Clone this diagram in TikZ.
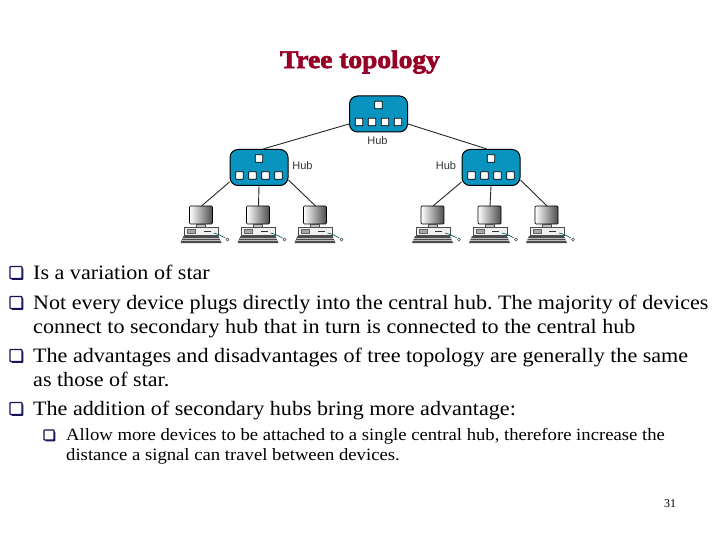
\documentclass[tikz,border=0pt]{standalone}
\usepackage{fontspec}
\usetikzlibrary{shadows}
\setmainfont{Liberation Serif}
\newfontfamily\bodyfont[FakeStretch=1.08]{Liberation Serif}
\newfontfamily\titlefont[FakeBold=2.6,FakeStretch=1.08]{Liberation Serif Bold}
\newfontfamily\hubfont{Liberation Sans}
\definecolor{hubblue}{RGB}{8,148,190}
\definecolor{titlered}{RGB}{150,0,36}
\definecolor{bulletnavy}{RGB}{20,20,90}
\tikzset{
  hubbox/.style={draw=black,line width=1pt,fill=hubblue,rounded corners=8pt,minimum width=58pt,minimum height=36pt,inner sep=0pt},
  port/.style={draw=black,line width=.9pt,fill=white,minimum size=7.5pt,inner sep=0pt,rounded corners=.6pt},
  link/.style={draw=black!85,line width=.9pt},
  hublabel/.style={font=\hubfont\fontsize{11}{13}\selectfont,text=black!80,inner sep=0pt},
  bodytext/.style={anchor=base west,inner sep=0pt,font=\bodyfont\fontsize{20.45}{24}\selectfont\frenchspacing},
  subtext/.style={anchor=base west,inner sep=0pt,font=\bodyfont\fontsize{17.3}{20}\selectfont\frenchspacing},
  qbox/.style={draw=bulletnavy,line width=1.2pt,fill=white,minimum size=12pt,inner sep=0pt,rounded corners=.8pt,
    general shadow={fill=bulletnavy,shadow xshift=1.3pt,shadow yshift=-1.3pt}},
  qsub/.style={qbox,minimum size=10pt},
  pc/.pic={
    \coordinate (-top) at (0,0);
    \shade[left color=white,right color=black!70,draw=black,line width=.7pt,rounded corners=1pt] (-12,0) rectangle (11,18);
    \draw[black!70,fill=black!25,line width=.5pt] (-5,18) rectangle (4,21);
    \draw[black!70,fill=black!6,line width=.6pt] (-17,21) rectangle (17,29.5);
    \draw[black!60,fill=black!35,line width=.4pt] (-14,23) rectangle (-6,27);
    \draw[black!80,line width=.9pt] (2,25) -- (9,25);
    \fill[black!70] (-18,30) -- (17,30) -- (20,37) -- (-21,37) -- cycle;
    \draw[white!75!black,line width=.35pt] (-19,32) -- (18,32) (-20,34.5) -- (19,34.5);
    \draw[teal!70!black,line width=.6pt] (12,27) .. controls (17,28) and (20,30) .. (24,32);
    \draw[black!70,line width=.5pt] (26,33.5) circle (1.5);
  }
}
\newcommand{\hubports}[1]{%
  \node[port] at ([yshift=9pt]#1.center) {};
  \foreach \dx in {-19.5,-6.5,6.5,19.5} \node[port] at ([xshift=\dx pt,yshift=-8pt]#1.center) {};
}
\begin{document}
\begin{tikzpicture}[x=1pt,y=-1pt]
\useasboundingbox (0,0) rectangle (720,540);
\fill[white] (0,0) rectangle (720,540);
\node[inner sep=0pt,text=titlered,font=\titlefont\fontsize{25.4}{30}\selectfont] (title) at (360,62) {Tree topology};
\node[hubbox] (hubC) at (378.5,114) {};
\node[hubbox] (hubL) at (259,167.5) {};
\node[hubbox] (hubR) at (491,167.5) {};
\pic (c1) at (201.5,206) {pc};
\pic (c2) at (258.5,206) {pc};
\pic (c3) at (315.5,206) {pc};
\pic (c4) at (433,206) {pc};
\pic (c5) at (490,206) {pc};
\pic (c6) at (547,206) {pc};
\draw[link] (hubC.west |- 0,124) -- ([xshift=4pt]hubL.north);
\draw[link] (hubC.east |- 0,124) -- ([xshift=-4pt]hubR.north);
\draw[link] (hubL.west |- 0,182) -- (c1-top);
\draw[link] (hubL.south) -- (c2-top);
\draw[link] (hubL.east |- 0,180) -- (c3-top);
\draw[link] (hubR.west |- 0,182) -- (c4-top);
\draw[link] (hubR.south) -- (c5-top);
\draw[link] (hubR.east |- 0,180) -- (c6-top);
\hubports{hubC}\hubports{hubL}\hubports{hubR}
\node[hublabel] (lblC) at (377.5,141) {Hub};
\node[hublabel] (lblL) at (302.5,166) {Hub};
\node[hublabel] (lblR) at (446,166) {Hub};
\node[qbox] (b1) at (16,272.5) {};
\node[qbox] (b2) at (16,302.5) {};
\node[qbox] (b3) at (16,355.5) {};
\node[qbox] (b4) at (16,408.5) {};
\node[qsub] (b5) at (49,435) {};
\node[bodytext] (t1) at (33,279) {Is a variation of star};
\node[bodytext] (t2) at (33,309) {Not every device plugs directly into the central hub. The majority of devices};
\node[bodytext] (t2b) at (33,333) {connect to secondary hub that in turn is connected to the central hub};
\node[bodytext] (t3) at (33,362) {The advantages and disadvantages of tree topology are generally the same};
\node[bodytext] (t3b) at (33,386) {as those of star.};
\node[bodytext] (t4) at (33,415) {The addition of secondary hubs bring more advantage:};
\node[subtext] (t5) at (66,440) {Allow more devices to be attached to a single central hub, therefore increase the};
\node[subtext] (t5b) at (66,460) {distance a signal can travel between devices.};
\node[anchor=base,inner sep=0pt,font=\fontsize{12}{14}\selectfont] (pg) at (670,507) {31};
\end{tikzpicture}
\end{document}
